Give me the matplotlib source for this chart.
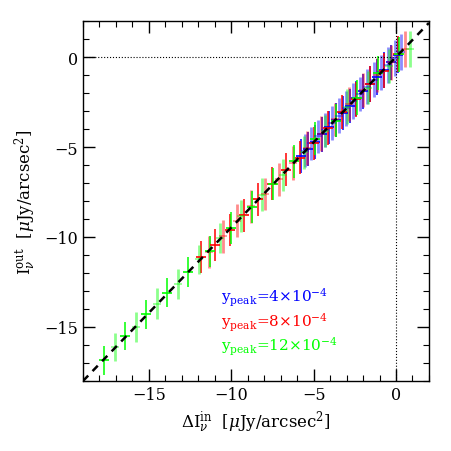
import numpy as np
import matplotlib
matplotlib.use('Agg')
import matplotlib.pyplot as plt

plt.rcParams['font.family'] = 'DejaVu Serif'
plt.rcParams['mathtext.fontset'] = 'dejavuserif'

# y_peak = 12e-4 (green)
x_green = [-17.72, -17.08, -16.44, -15.80, -15.16, -14.52, -13.88, -13.24, -12.60, -11.96,
           -11.32, -10.68, -10.04, -9.40, -8.76, -8.12, -7.48, -6.84, -6.20, -5.56,
           -4.92, -4.28, -3.64, -3.00, -2.36, -1.72, -1.08, -0.44, 0.20, 0.84]
y_green = [-16.85, -16.10, -15.50, -15.00, -14.30, -13.70, -13.10, -12.60, -11.95, -11.25,
           -10.80, -10.05, -9.50, -8.85, -8.35, -7.65, -7.05, -6.55, -5.80, -5.30,
           -4.55, -4.10, -3.55, -2.75, -2.25, -1.70, -0.90, -0.50, 0.15, 0.45]
e_green = [0.80, 0.78, 0.80, 0.82, 0.82, 0.85, 0.80, 0.82, 0.85, 0.82,
           0.88, 0.85, 0.88, 0.90, 0.88, 0.92, 0.88, 0.90, 0.92, 0.90,
           0.92, 0.90, 0.92, 0.95, 0.95, 0.92, 0.95, 0.95, 0.98, 0.98]

# y_peak = 8e-4 (red)
x_red = [-11.81, -11.38, -10.96, -10.53, -10.10, -9.68, -9.25, -8.82, -8.40, -7.97,
         -7.54, -7.11, -6.69, -6.26, -5.83, -5.41, -4.98, -4.55, -4.13, -3.70,
         -3.27, -2.85, -2.42, -1.99, -1.56, -1.14, -0.71, -0.28, 0.14, 0.57]
y_red = [-11.10, -10.85, -10.45, -9.95, -9.60, -9.10, -8.80, -8.30, -7.90, -7.60,
         -7.05, -6.80, -6.25, -5.90, -5.60, -5.05, -4.80, -4.25, -3.95, -3.45,
         -3.05, -2.60, -2.35, -1.85, -1.50, -1.00, -0.75, -0.30, 0.15, 0.45]
e_red = [0.88, 0.90, 0.88, 0.92, 0.90, 0.92, 0.90, 0.92, 0.92, 0.90,
         0.92, 0.92, 0.92, 0.95, 0.92, 0.95, 0.92, 0.95, 0.95, 0.92,
         0.95, 0.95, 0.98, 0.95, 0.98, 0.95, 0.98, 0.98, 1.00, 0.98]

# y_peak = 4e-4 (blue)
x_blue = [-5.76, -5.55, -5.34, -5.13, -4.92, -4.71, -4.50, -4.29, -4.08, -3.87,
          -3.66, -3.45, -3.24, -3.03, -2.82, -2.61, -2.40, -2.19, -1.98, -1.77,
          -1.56, -1.35, -1.14, -0.93, -0.72, -0.51, -0.30, -0.09, 0.12, 0.33]
y_blue = [-5.50, -5.20, -5.10, -4.80, -4.70, -4.40, -4.30, -4.05, -3.90, -3.65,
          -3.50, -3.25, -3.10, -2.85, -2.70, -2.45, -2.30, -2.05, -1.90, -1.65,
          -1.50, -1.25, -1.10, -0.85, -0.70, -0.45, -0.30, -0.05, 0.10, 0.30]
e_blue = [0.92, 0.92, 0.95, 0.92, 0.95, 0.92, 0.95, 0.95, 0.92, 0.95,
          0.95, 0.98, 0.95, 0.98, 0.95, 0.98, 0.98, 0.95, 0.98, 0.98,
          1.00, 0.98, 1.00, 0.98, 1.00, 1.00, 0.98, 1.00, 1.00, 1.00]

labels = [r'$\mathrm{y_{peak}}$=4$\times$10$^{-4}$',
          r'$\mathrm{y_{peak}}$=8$\times$10$^{-4}$',
          r'$\mathrm{y_{peak}}$=12$\times$10$^{-4}$']
label_colors = ['blue', 'red', 'lime']

slope = 18.0 / 19.0

fig = plt.figure(figsize=(4.52, 4.52), dpi=100)
ax = fig.add_axes([0.1836, 0.1549, 0.7654, 0.7964])

for xs, ys, es, col in [(x_blue, y_blue, e_blue, 'blue'),
                        (x_red, y_red, e_red, 'red'),
                        (x_green, y_green, e_green, 'lime')]:
    xs = np.array(xs); ys = np.array(ys); es = np.array(es)
    # light bars (odd points)
    ax.errorbar(xs[1::2], ys[1::2], yerr=es[1::2], fmt='_', color=col, alpha=0.45,
                elinewidth=2.0, ms=6, mew=1.2, capsize=0)
    # solid bars (even points)
    ax.errorbar(xs[0::2], ys[0::2], yerr=es[0::2], fmt='_', color=col,
                elinewidth=1.1, ms=7, mew=1.2, capsize=0)

xl = np.array([-19, 2])
ax.plot(xl, slope * xl, 'k--', lw=1.8, dashes=(3, 2.5), zorder=5)
ax.plot([-19, 0], [0, 0], ls=':', color='k', lw=0.8)
ax.plot([0, 0], [-18, 2], ls=':', color='k', lw=0.8)

ax.set_xlim(-19, 2)
ax.set_ylim(-18, 2)
ax.set_xticks([-15, -10, -5, 0])
ax.set_yticks([-15, -10, -5, 0])
ax.set_xticks(np.arange(-19, 3), minor=True)
ax.set_yticks(np.arange(-18, 3), minor=True)
ax.tick_params(which='both', direction='in', top=True, right=True, labelsize=11.5)
ax.tick_params(which='major', length=8.5, width=1.0)
ax.tick_params(which='minor', length=4.3, width=0.8)
for s in ax.spines.values():
    s.set_linewidth(1.0)

ax.set_xlabel(r'$\Delta\mathrm{I}_\nu^{\mathrm{in}}$  [$\mu$Jy/arcsec$^2$]', fontsize=12)
ax.set_ylabel(r'$\mathrm{I}_\nu^{\mathrm{out}}$  [$\mu$Jy/arcsec$^2$]', fontsize=12)

for i, (lab, c) in enumerate(zip(labels, label_colors)):
    ax.text(-10.6, -13.35 - 1.35 * i, lab, color=c, fontsize=11, va='center')

fig.savefig('out.png', dpi=100)
